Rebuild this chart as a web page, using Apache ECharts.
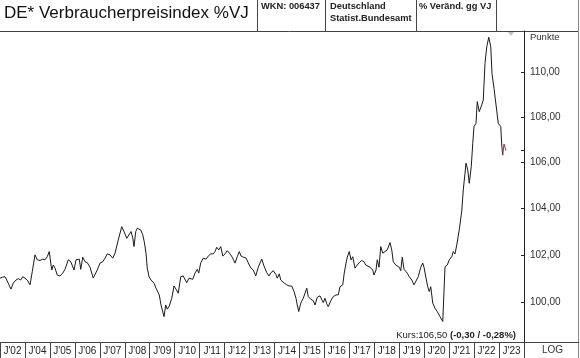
<!DOCTYPE html>
<html>
<head>
<meta charset="utf-8">
<script src="https://cdn.jsdelivr.net/npm/echarts@6/dist/echarts.min.js"></script>
<style>
html,body{margin:0;padding:0;background:#fff;}
#c{width:580px;height:358px;}
</style>
</head>
<body>
<div id="c"></div>
<script>
// ---- data ----
const xTickLabels = ["J'02","J'04","J'05","J'06","J'07","J'08","J'09","J'10","J'11","J'12","J'13","J'14","J'15","J'16","J'17","J'18","J'19","J'20","J'21","J'22","J'23"];
const yTickValues = [100, 102, 104, 106, 108, 110];
const times = [
2003.25,2003.36,2003.45,2003.52,2003.69,2003.78,2003.89,2003.98,2004.08,2004.16,2004.25,2004.34,2004.45,2004.54,2004.65,2004.74,2004.85,2004.96,
2005.05,2005.14,2005.22,2005.28,2005.32,2005.38,2005.45,2005.54,2005.65,2005.76,2005.85,2005.98,2006.08,2006.16,2006.21,2006.29,2006.34,2006.42,
2006.48,2006.56,2006.65,2006.74,2006.85,2006.92,2006.98,2007.06,2007.14,2007.25,2007.36,2007.45,2007.54,2007.65,2007.76,2007.85,2007.98,2008.12,
2008.21,2008.32,2008.40,2008.49,2008.56,2008.61,2008.68,2008.74,2008.81,2008.88,2008.96,2009.02,2009.09,2009.14,2009.21,2009.29,2009.36,2009.41,
2009.49,2009.56,2009.62,2009.69,2009.76,2009.81,2009.88,2009.94,2010.02,2010.12,2010.21,2010.29,2010.38,2010.48,2010.58,2010.65,2010.72,2010.81,
2010.89,2010.96,2011.05,2011.14,2011.20,2011.28,2011.38,2011.49,2011.58,2011.68,2011.78,2011.85,2011.92,2012.00,2012.08,2012.16,2012.25,2012.34,
2012.45,2012.54,2012.65,2012.74,2012.82,2012.89,2012.98,2013.09,2013.22,2013.29,2013.38,2013.48,2013.58,2013.72,2013.81,2013.92,2014.01,2014.09,
2014.18,2014.28,2014.34,2014.42,2014.48,2014.54,2014.62,2014.72,2014.82,2014.92,2015.01,2015.09,2015.14,2015.20,2015.28,2015.38,2015.52,2015.58,
2015.68,2015.78,2015.85,2015.94,2016.05,2016.12,2016.18,2016.25,2016.32,2016.38,2016.48,2016.58,2016.69,2016.78,2016.85,2016.96,2017.02,2017.09,
2017.14,2017.22,2017.29,2017.36,2017.45,2017.54,2017.62,2017.72,2017.81,2017.88,2017.94,2018.05,2018.16,2018.21,2018.29,2018.34,2018.41,2018.48,
2018.56,2018.65,2018.74,2018.85,2018.92,2018.98,2019.08,2019.16,2019.22,2019.28,2019.34,2019.41,2019.48,2019.54,2019.62,2019.72,2019.81,2019.89,
2019.98,2020.08,2020.16,2020.21,2020.29,2020.36,2020.42,2020.48,2020.56,2020.65,2020.74,2020.85,2020.96,2021.05,2021.14,2021.22,2021.32,2021.38,
2021.45,2021.52,2021.62,2021.72,2021.78,2021.85,2021.89,2021.96,2022.02,2022.10,2022.16,2022.21,2022.29,2022.34,2022.42,2022.52,2022.58,2022.65,
2022.72,2022.80,2022.88,2022.93,2023.01,2023.09,2023.18,2023.28,2023.32,2023.36,2023.41,2023.49
];
const values = [
101.02,101.06,101.08,100.94,100.56,100.81,100.94,101.00,100.94,101.08,101.02,100.94,100.74,101.29,102.00,101.79,101.76,101.82,
101.79,101.92,102.14,101.65,101.36,101.57,101.44,101.15,101.11,101.23,101.39,101.79,101.71,101.79,101.36,101.79,101.71,101.82,
101.39,101.90,101.71,101.67,101.48,101.23,101.02,101.08,101.36,101.65,101.71,101.86,102.04,102.00,101.86,102.07,102.63,103.20,
102.99,102.70,102.63,102.99,102.72,102.35,102.99,103.13,103.20,103.06,102.85,102.56,102.07,101.44,101.08,100.94,100.97,100.81,
100.60,100.64,100.32,99.90,99.98,99.42,99.90,99.73,99.86,100.18,100.69,100.56,100.39,101.08,101.11,101.06,100.83,101.02,
101.06,100.97,101.23,101.39,101.23,101.67,101.86,101.82,101.95,102.04,102.04,102.14,102.32,102.21,102.35,101.95,102.04,102.18,
102.04,101.90,101.65,101.92,102.14,101.95,101.90,101.87,101.57,101.44,101.36,101.11,101.48,101.82,101.53,101.25,101.11,101.25,
101.33,101.18,101.02,101.20,100.94,101.02,100.81,100.74,100.69,100.69,100.46,100.18,99.90,99.63,99.98,100.18,100.60,100.25,
100.14,100.08,99.90,100.22,100.28,100.36,100.00,100.18,99.95,99.83,100.08,100.25,100.32,100.32,100.66,100.74,101.23,101.65,
101.90,102.14,101.79,101.92,101.44,101.57,101.67,101.76,101.71,101.57,101.65,101.48,101.36,101.15,101.36,101.79,101.48,102.35,
102.07,102.14,102.21,102.52,102.21,101.71,101.57,101.61,101.48,101.33,101.90,101.39,101.44,101.23,101.08,100.94,100.74,100.78,
101.08,101.48,101.65,101.48,101.02,100.66,100.46,100.66,99.98,99.77,99.63,99.42,99.22,101.50,101.57,101.79,101.92,102.14,
102.04,102.42,103.06,103.87,104.78,105.51,105.95,105.65,105.07,105.80,106.83,107.57,107.72,108.69,108.24,108.54,108.76,110.43,
111.19,111.63,111.19,109.97,109.29,109.22,107.72,107.57,106.75,106.30,106.80,106.50
];

// ---- layout / style ----
const FONT = "'Liberation Sans', Arial, sans-serif";
const T_MIN = 2003.25, T_MAX = 2003.25 + 524 / 25;
const V_MIN = 98.38, V_MAX = 111.92;

const n = values.length;
const pts = times.map((t, i) => [t, Math.log(values[i])]);
const last = values[n - 1], prev = values[n - 2];
const diff = last - prev, pct = diff / prev * 100;
const fmt = (v) => v.toFixed(2).replace('.', ',');
const kursNormal = 'Kurs:' + fmt(last) + ' ';
const kursBold = '(' + fmt(diff) + ' / ' + fmt(pct) + '%)';

const chart = echarts.init(document.getElementById('c'), null, {renderer: 'canvas'});
const lineCol = '#444';
chart.setOption({
  animation: false,
  backgroundColor: '#fff',
  grid: {left: 0, right: 56, top: 31, bottom: 16, containLabel: false},
  xAxis: [
    {type: 'value', min: T_MIN, max: T_MAX, show: false},
    {type: 'category', data: xTickLabels, position: 'bottom', boundaryGap: true,
     axisLine: {show: true, lineStyle: {color: lineCol, width: 1}},
     axisTick: {show: true, interval: 0, length: 16, lineStyle: {color: lineCol, width: 1}},
     axisLabel: {interval: 0, margin: 4, fontSize: 10, color: '#222', fontFamily: FONT},
     splitLine: {show: false}}
  ],
  yAxis: {
    type: 'value', position: 'right',
    min: Math.log(V_MIN), max: Math.log(V_MAX),
    axisLine: {show: true, lineStyle: {color: '#222', width: 1}},
    axisTick: {show: true, inside: true, length: 3, lineStyle: {color: '#222'},
               customValues: yTickValues.concat([last]).map(Math.log)},
    axisLabel: {show: true, margin: 6, fontSize: 10, color: '#333', fontFamily: FONT,
                customValues: yTickValues.map(Math.log),
                formatter: (v) => fmt(Math.exp(v))},
    splitLine: {show: false}
  },
  series: [
    {type: 'line', xAxisIndex: 0, data: pts.slice(0, n - 2), symbol: 'none',
     lineStyle: {color: '#1a1a1a', width: 1}, silent: true},
    {type: 'line', xAxisIndex: 0, data: pts.slice(n - 3), symbol: 'none',
     lineStyle: {color: '#b0304a', width: 1}, silent: true}
  ],
  graphic: [
    // header frame
    {type: 'line', shape: {x1: 0, y1: 31.5, x2: 579, y2: 31.5}, style: {stroke: lineCol, lineWidth: 1}},
    {type: 'line', shape: {x1: 257.5, y1: 0, x2: 257.5, y2: 31}, style: {stroke: lineCol, lineWidth: 1}},
    {type: 'line', shape: {x1: 325.5, y1: 0, x2: 325.5, y2: 31}, style: {stroke: lineCol, lineWidth: 1}},
    {type: 'line', shape: {x1: 416.5, y1: 0, x2: 416.5, y2: 31}, style: {stroke: lineCol, lineWidth: 1}},
    {type: 'line', shape: {x1: 496.5, y1: 0, x2: 496.5, y2: 31}, style: {stroke: lineCol, lineWidth: 1}},
    {type: 'line', shape: {x1: 578.5, y1: 0, x2: 578.5, y2: 358}, style: {stroke: '#888', lineWidth: 1}},
    {type: 'line', shape: {x1: 524, y1: 342.5, x2: 579, y2: 342.5}, style: {stroke: lineCol, lineWidth: 1}},
    {type: 'polygon', shape: {points: [[508, 32], [514, 32], [511, 36]]}, style: {fill: '#b8c4d2'}},
    // header texts
    {type: 'text', left: 4, top: 5, style: {text: 'DE* Verbraucherpreisindex %VJ', font: '17px ' + FONT, fill: '#111'}},
    {type: 'text', left: 261, top: 2, style: {text: 'WKN: 006437', font: 'bold 9.3px ' + FONT, fill: '#222'}},
    {type: 'text', left: 330, top: 2, style: {text: 'Deutschland', font: 'bold 9.3px ' + FONT, fill: '#222'}},
    {type: 'text', left: 330, top: 14, style: {text: 'Statist.Bundesamt', font: 'bold 9.3px ' + FONT, fill: '#222'}},
    {type: 'text', left: 419, top: 2, style: {text: '% Veränd. gg VJ', font: 'bold 9.3px ' + FONT, fill: '#222'}},
    {type: 'text', left: 530, top: 32, style: {text: 'Punkte', font: '9.5px ' + FONT, fill: '#333'}},
    {type: 'text', left: 542, top: 345, style: {text: 'LOG', font: '10px ' + FONT, fill: '#333'}},
    {type: 'text', right: 64, top: 330, style: {
      text: '{n|' + kursNormal + '}{b|' + kursBold + '}',
      rich: {n: {font: '9.5px ' + FONT, fill: '#222'}, b: {font: 'bold 9.5px ' + FONT, fill: '#222'}}
    }}
  ]
});
</script>
</body>
</html>
